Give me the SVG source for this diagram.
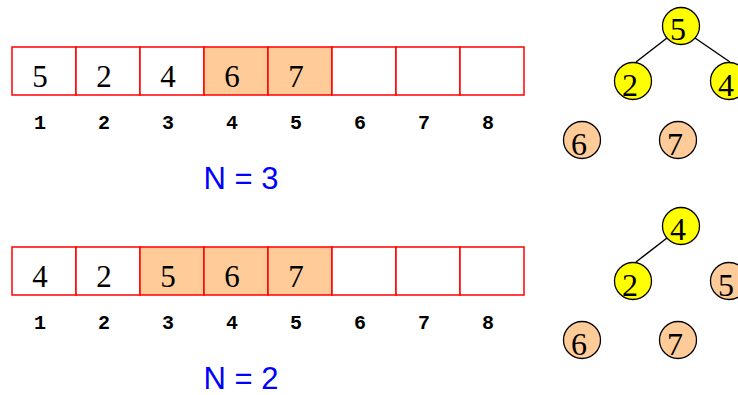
<svg xmlns="http://www.w3.org/2000/svg" width="738" height="395" viewBox="0 0 738 395">
<style>
.cell{fill:#fff;stroke:#f00;stroke-width:1.5}
.hl{fill:#ffcc99}
.val{font-family:"Liberation Serif","Times New Roman",serif;font-size:31px;text-anchor:middle;fill:#000}
.tv{font-family:"Liberation Serif","Times New Roman",serif;font-size:32px;text-anchor:middle;fill:#000}
.idx{font-family:"Liberation Mono","Courier New",monospace;font-weight:bold;font-size:20px;text-anchor:middle;fill:#000}
.n{font-family:"Liberation Sans",Arial,sans-serif;font-size:31px;text-anchor:middle;fill:#00f}
.y{fill:#ffff00;stroke:#000;stroke-width:1.3}
.p{fill:#ffcc99;stroke:#000;stroke-width:1.3}
.edge{stroke:#000;stroke-width:1.5;fill:none}
</style>
<g id="array1">
<rect class="cell" x="12" y="47" width="64" height="48"/>
<rect class="cell" x="76" y="47" width="64" height="48"/>
<rect class="cell" x="140" y="47" width="64" height="48"/>
<rect class="cell hl" x="204" y="47" width="64" height="48"/>
<rect class="cell hl" x="268" y="47" width="64" height="48"/>
<rect class="cell" x="332" y="47" width="64" height="48"/>
<rect class="cell" x="396" y="47" width="64" height="48"/>
<rect class="cell" x="460" y="47" width="64" height="48"/>
<text class="val" x="40" y="87">5</text>
<text class="val" x="104" y="87">2</text>
<text class="val" x="168" y="87">4</text>
<text class="val" x="232" y="87">6</text>
<text class="val" x="296" y="87">7</text>
<text class="idx" x="40" y="129">1</text>
<text class="idx" x="104" y="129">2</text>
<text class="idx" x="168" y="129">3</text>
<text class="idx" x="232" y="129">4</text>
<text class="idx" x="296" y="129">5</text>
<text class="idx" x="360" y="129">6</text>
<text class="idx" x="424" y="129">7</text>
<text class="idx" x="488" y="129">8</text>
<text class="n" x="241" y="189">N = 3</text>
</g>
<g id="array2">
<rect class="cell" x="12" y="247" width="64" height="48"/>
<rect class="cell" x="76" y="247" width="64" height="48"/>
<rect class="cell hl" x="140" y="247" width="64" height="48"/>
<rect class="cell hl" x="204" y="247" width="64" height="48"/>
<rect class="cell hl" x="268" y="247" width="64" height="48"/>
<rect class="cell" x="332" y="247" width="64" height="48"/>
<rect class="cell" x="396" y="247" width="64" height="48"/>
<rect class="cell" x="460" y="247" width="64" height="48"/>
<text class="val" x="40" y="287">4</text>
<text class="val" x="104" y="287">2</text>
<text class="val" x="168" y="287">5</text>
<text class="val" x="232" y="287">6</text>
<text class="val" x="296" y="287">7</text>
<text class="idx" x="40" y="329">1</text>
<text class="idx" x="104" y="329">2</text>
<text class="idx" x="168" y="329">3</text>
<text class="idx" x="232" y="329">4</text>
<text class="idx" x="296" y="329">5</text>
<text class="idx" x="360" y="329">6</text>
<text class="idx" x="424" y="329">7</text>
<text class="idx" x="488" y="329">8</text>
<text class="n" x="241" y="389">N = 2</text>
</g>
<g id="connectors">
<line class="edge" x1="667" y1="38" x2="636" y2="62"/>
<line class="edge" x1="695" y1="38" x2="730" y2="62"/>
<line class="edge" x1="667" y1="238" x2="636" y2="262"/>
</g>
<g id="t1n5"><circle class="y" cx="681" cy="26" r="18.5"/><text class="tv" x="678" y="40">5</text></g>
<g id="t1n2"><circle class="y" cx="633" cy="81" r="18.5"/><text class="tv" x="630" y="96">2</text></g>
<g id="t1n4"><circle class="y" cx="729" cy="81" r="18.5"/><text class="tv" x="726" y="96">4</text></g>
<g id="t1n6"><circle class="p" cx="582" cy="140" r="18.5"/><text class="tv" x="579" y="155">6</text></g>
<g id="t1n7"><circle class="p" cx="678" cy="140" r="18.5"/><text class="tv" x="675" y="155">7</text></g>
<g id="t2n4"><circle class="y" cx="681" cy="226" r="18.5"/><text class="tv" x="678" y="240">4</text></g>
<g id="t2n2"><circle class="y" cx="633" cy="281" r="18.5"/><text class="tv" x="630" y="296">2</text></g>
<g id="t2n5"><circle class="p" cx="729" cy="281" r="18.5"/><text class="tv" x="726" y="296">5</text></g>
<g id="t2n6"><circle class="p" cx="582" cy="340" r="18.5"/><text class="tv" x="579" y="355">6</text></g>
<g id="t2n7"><circle class="p" cx="678" cy="340" r="18.5"/><text class="tv" x="675" y="355">7</text></g>
</svg>
